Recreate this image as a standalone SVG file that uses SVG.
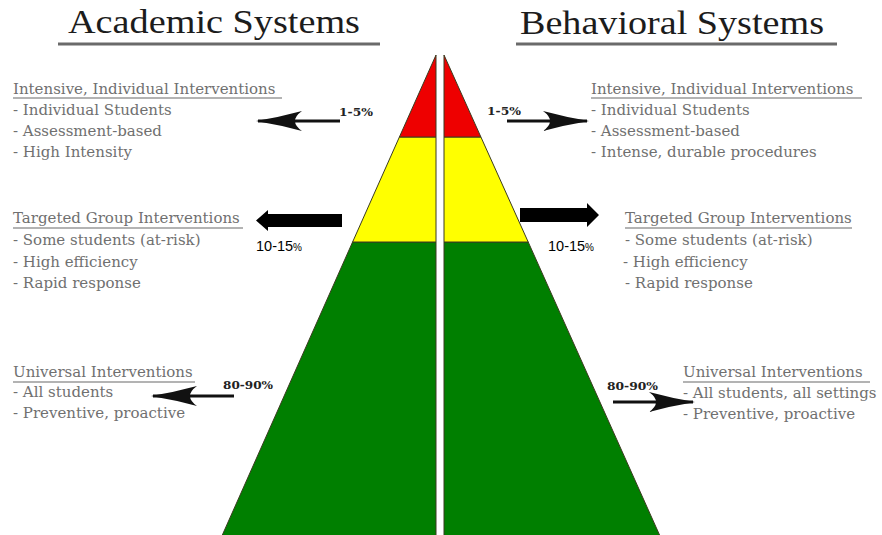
<svg xmlns="http://www.w3.org/2000/svg" width="882" height="535" viewBox="0 0 882 535">
<style>
.title{font-family:"Liberation Serif","Times New Roman",serif;font-size:33px;fill:#1c1c1c}
.tline{stroke:#6a6a6a;stroke-width:3}
.txt{font-family:"DejaVu Serif","Liberation Serif",serif;font-size:15px;fill:#707070}
.uline{stroke:#9a9a9a;stroke-width:1.5}
.pct{font-family:"DejaVu Serif","Liberation Serif",serif;font-size:11px;font-weight:bold;fill:#222}
.pct2{font-family:"Liberation Sans",Arial,sans-serif;font-size:14.5px;fill:#000}
.band{stroke:#3b3b20;stroke-width:1}
.red{fill:#ee0000}.yel{fill:#ffff00}.grn{fill:#007f00}
.shaft{stroke:#111;stroke-width:3;fill:none}
.thick{fill:#000}
</style>
<defs>
<marker id="swept" viewBox="0 -11 46 22" refX="44" refY="0" markerWidth="46" markerHeight="22" markerUnits="userSpaceOnUse" orient="auto">
<path d="M0,-10 Q22,-4 46,0 Q22,4 0,10 Q14,0 0,-10 Z" fill="#111"/>
</marker>
</defs>
<rect width="882" height="535" fill="#fff"/>

<g id="title-academic">
<text class="title" x="68" y="33" textLength="292" lengthAdjust="spacingAndGlyphs">Academic Systems</text>
<line class="tline" x1="58" y1="44" x2="380" y2="44"/>
</g>
<g id="title-behavioral">
<text class="title" x="520" y="34" textLength="304" lengthAdjust="spacingAndGlyphs">Behavioral Systems</text>
<line class="tline" x1="516" y1="44" x2="837" y2="44"/>
</g>

<g id="pyramid-academic">
<polygon class="band grn" points="352.6,242 436,242 436,536 221.9,536"/>
<polygon class="band yel" points="399.4,137 436,137 436,242 352.6,242"/>
<polygon class="band red" points="436,55 436,137 399.4,137"/>
</g>
<g id="pyramid-behavioral">
<polygon class="band grn" points="444,242 528.2,242 660,536 444,536"/>
<polygon class="band yel" points="444,137 480.9,137 528.2,242 444,242"/>
<polygon class="band red" points="444,55 480.9,137 444,137"/>
</g>

<g id="acad-intensive">
<text class="txt" x="13" y="94">Intensive, Individual Interventions</text>
<line class="uline" x1="13" y1="98" x2="282" y2="98"/>
<text class="txt" x="13" y="115">- Individual Students</text>
<text class="txt" x="13" y="136">- Assessment-based</text>
<text class="txt" x="13" y="157">- High Intensity</text>
</g>
<g id="acad-targeted">
<text class="txt" x="13" y="223">Targeted Group Interventions</text>
<line class="uline" x1="13" y1="228" x2="243" y2="228"/>
<text class="txt" x="13" y="245">- Some students (at-risk)</text>
<text class="txt" x="13" y="267">- High efficiency</text>
<text class="txt" x="13" y="288">- Rapid response</text>
</g>
<g id="acad-universal">
<text class="txt" x="13" y="377">Universal Interventions</text>
<line class="uline" x1="13" y1="382" x2="195" y2="382"/>
<text class="txt" x="13" y="397">- All students</text>
<text class="txt" x="13" y="418">- Preventive, proactive</text>
</g>

<g id="beh-intensive">
<text class="txt" x="591" y="94">Intensive, Individual Interventions</text>
<line class="uline" x1="591" y1="98" x2="862" y2="98"/>
<text class="txt" x="591" y="115">- Individual Students</text>
<text class="txt" x="591" y="136">- Assessment-based</text>
<text class="txt" x="591" y="157">- Intense, durable procedures</text>
</g>
<g id="beh-targeted">
<text class="txt" x="625" y="223">Targeted Group Interventions</text>
<line class="uline" x1="625" y1="228" x2="852" y2="228"/>
<text class="txt" x="625" y="245">- Some students (at-risk)</text>
<text class="txt" x="623" y="267">- High efficiency</text>
<text class="txt" x="625" y="288">- Rapid response</text>
</g>
<g id="beh-universal">
<text class="txt" x="683" y="377">Universal Interventions</text>
<line class="uline" x1="683" y1="382" x2="870" y2="382"/>
<text class="txt" x="683" y="398">- All students, all settings</text>
<text class="txt" x="683" y="419">- Preventive, proactive</text>
</g>

<g id="connectors">
<line class="shaft" x1="340" y1="121" x2="258" y2="121" marker-end="url(#swept)"/>
<line class="shaft" x1="507" y1="121" x2="587" y2="121" marker-end="url(#swept)"/>
<line class="shaft" x1="234" y1="396" x2="153" y2="396" marker-end="url(#swept)"/>
<line class="shaft" x1="613" y1="402" x2="693" y2="402" marker-end="url(#swept)"/>
<polygon class="thick" points="342,214 268,214 268,210 256,220.5 268,231 268,227 342,227"/>
<polygon class="thick" points="520,208 587,208 587,203 599,215 587,227 587,222 520,222"/>
</g>

<g id="labels">
<text class="pct" x="339" y="116" textLength="34" lengthAdjust="spacingAndGlyphs">1-5%</text>
<text class="pct" x="487" y="115" textLength="34" lengthAdjust="spacingAndGlyphs">1-5%</text>
<text class="pct" x="223" y="389" textLength="50" lengthAdjust="spacingAndGlyphs" fill="#333">80-90%</text>
<text class="pct" x="607" y="390" textLength="51" lengthAdjust="spacingAndGlyphs">80-90%</text>
<text class="pct2" x="256" y="251">10-15<tspan font-size="10">%</tspan></text>
<text class="pct2" x="548" y="251">10-15<tspan font-size="10">%</tspan></text>
</g>
</svg>
